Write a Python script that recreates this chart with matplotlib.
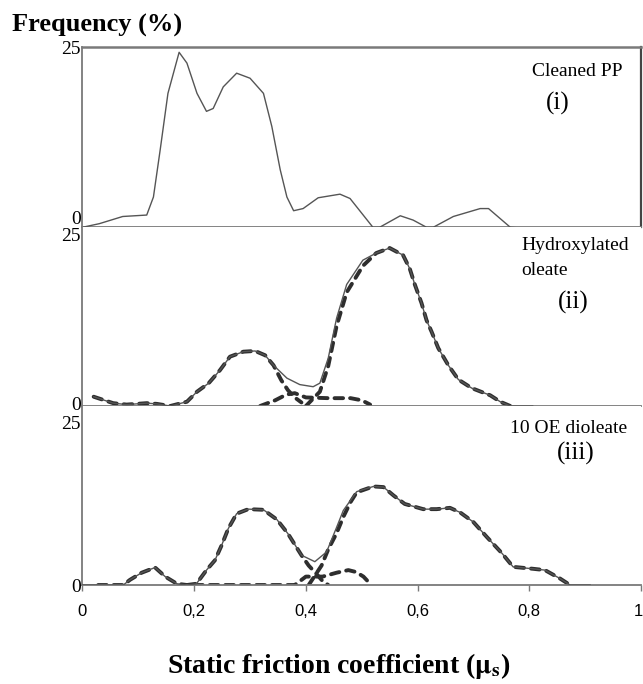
import matplotlib
matplotlib.use("Agg")
import matplotlib.pyplot as plt
from matplotlib.transforms import ScaledTranslation

plt.rcParams['mathtext.fontset'] = 'stix'

# Panel (i) - cleaned PP, total distribution
x_i = [0.00, 0.03, 0.072, 0.115, 0.127, 0.139, 0.153, 0.173, 0.187, 0.205, 0.222, 0.234,
       0.252, 0.276, 0.300, 0.324, 0.339, 0.354, 0.366, 0.378, 0.395, 0.422, 0.461, 0.479,
       0.520, 0.532, 0.569, 0.592, 0.616, 0.628, 0.664, 0.712, 0.727, 0.766, 0.785]
y_i = [0.0, 0.5, 1.5, 1.7, 4.2, 10.7, 18.6, 24.3, 22.8, 18.6, 16.1, 16.5,
       19.5, 21.4, 20.7, 18.6, 14.0, 8.0, 4.2, 2.3, 2.6, 4.1, 4.6, 4.0,
       0.0, 0.0, 1.6, 1.0, 0.0, 0.0, 1.5, 2.6, 2.6, 0.0, -0.1]

# Panel (ii) - hydroxylated oleate, total + fitted components
x_ii = [0.020, 0.055, 0.079, 0.115, 0.133, 0.157, 0.187, 0.205, 0.226, 0.246, 0.264, 0.288,
        0.309, 0.327, 0.342, 0.366, 0.389, 0.413, 0.425, 0.440, 0.455, 0.473, 0.502, 0.526,
        0.550, 0.574, 0.586, 0.595, 0.607, 0.616, 0.625, 0.637, 0.655, 0.673, 0.697, 0.730,
        0.748, 0.766, 0.806]
y_ii = [1.3, 0.4, 0.2, 0.4, 0.3, 0.0, 0.6, 2.0, 3.2, 5.0, 6.9, 7.6,
        7.7, 7.1, 5.7, 3.9, 3.0, 2.7, 3.2, 6.7, 12.3, 17.0, 20.4, 21.4,
        22.1, 21.1, 19.2, 17.0, 14.4, 12.0, 10.4, 8.1, 5.7, 3.7, 2.5, 1.5,
        0.6, 0.0, 0.0]
xa_ii = [0.020, 0.055, 0.079, 0.115, 0.133, 0.157, 0.187, 0.205, 0.226, 0.246, 0.264, 0.288,
         0.309, 0.327, 0.342, 0.356, 0.368, 0.380, 0.392]
ya_ii = [1.3, 0.4, 0.2, 0.4, 0.3, 0.0, 0.6, 2.0, 3.2, 5.0, 6.9, 7.6,
         7.7, 7.1, 5.7, 3.6, 2.2, 1.2, 0.5]
xb_ii = [0.318, 0.345, 0.365, 0.380, 0.400, 0.440, 0.480, 0.500, 0.515]
yb_ii = [0.0, 0.8, 1.6, 1.8, 1.2, 1.1, 1.1, 0.8, 0.2]
xc_ii = [0.400, 0.425, 0.440, 0.455, 0.473, 0.502, 0.526, 0.550, 0.574, 0.586, 0.595, 0.607,
         0.616, 0.625, 0.637, 0.655, 0.673, 0.697, 0.730, 0.748, 0.766]
yc_ii = [0.0, 2.0, 5.6, 11.2, 15.9, 19.6, 21.4, 22.1, 21.1, 19.2, 17.0, 14.4,
         12.0, 10.4, 8.1, 5.7, 3.7, 2.5, 1.5, 0.6, 0.0]

# Panel (iii) - 10 OE dioleate, total + fitted components
x_iii = [0.00, 0.073, 0.085, 0.106, 0.130, 0.148, 0.169, 0.187, 0.204, 0.222, 0.237, 0.249,
         0.261, 0.276, 0.297, 0.324, 0.348, 0.368, 0.392, 0.416, 0.437, 0.455, 0.467, 0.491,
         0.521, 0.539, 0.557, 0.577, 0.610, 0.634, 0.658, 0.676, 0.700, 0.724, 0.751, 0.771,
         0.807, 0.828, 0.855, 0.873, 0.909]
y_iii = [0.0, 0.0, 0.8, 1.9, 2.7, 1.3, 0.2, 0.0, 0.2, 2.3, 3.8, 6.1,
         8.7, 11.0, 11.7, 11.6, 10.1, 7.9, 4.6, 3.6, 5.1, 8.9, 11.5, 14.4,
         15.2, 15.1, 13.8, 12.5, 11.7, 11.7, 11.9, 11.2, 9.7, 7.4, 4.9, 2.8,
         2.5, 2.3, 1.0, 0.0, 0.0]
xa_iii = [0.028, 0.073, 0.085, 0.106, 0.130, 0.148, 0.169, 0.187]
ya_iii = [0.0, 0.0, 0.8, 1.9, 2.7, 1.3, 0.2, 0.0]
xb_iii = [0.187, 0.204, 0.222, 0.237, 0.249, 0.261, 0.276, 0.297, 0.324, 0.348, 0.368, 0.392,
          0.405, 0.418, 0.430, 0.440]
yb_iii = [0.0, 0.2, 2.3, 3.8, 6.1, 8.7, 11.0, 11.7, 11.6, 10.1, 7.9, 4.6,
          3.0, 1.8, 0.6, 0.0]
xc_iii = [0.405, 0.428, 0.440, 0.455, 0.467, 0.480, 0.491, 0.521, 0.539, 0.557, 0.577, 0.610,
          0.634, 0.658, 0.676, 0.700, 0.724, 0.751, 0.771, 0.807, 0.828, 0.855, 0.873]
yc_iii = [0.0, 3.0, 5.5, 8.0, 10.5, 12.8, 14.3, 15.2, 15.1, 13.8, 12.5, 11.7,
          11.7, 11.9, 11.2, 9.7, 7.4, 4.9, 2.8, 2.5, 2.3, 1.0, 0.0]
xd_iii = [0.20, 0.38, 0.400, 0.430, 0.455, 0.476, 0.490, 0.503, 0.515]
yd_iii = [0.0, 0.0, 1.3, 1.3, 1.9, 2.3, 2.0, 1.3, 0.2]

xticks = [0, 0.2, 0.4, 0.6, 0.8, 1]
xticklabels = ['0', '0,2', '0,4', '0,6', '0,8', '1']

serif = 'Liberation Serif'
sans = 'Liberation Sans'
solid_c = '#555555'
dash_c = '#2e2e2e'
spine_c = '#7a7a7a'

fig = plt.figure(figsize=(6.43, 6.84), dpi=100)
left, width = 0.1283, 0.8686
ax1 = fig.add_axes([left, 0.6677, width, 0.2632])
ax2 = fig.add_axes([left, 0.4064, width, 0.2613])
ax3 = fig.add_axes([left, 0.1447, width, 0.2617])
axes = [ax1, ax2, ax3]

def dashed(ax, x, y):
    ax.plot(x, y, color=dash_c, lw=2.8, linestyle=(0, (2.2, 1.8)),
            dash_capstyle='round', solid_joinstyle='round', zorder=2)

ax1.plot(x_i, y_i, color=solid_c, lw=1.0, zorder=3)

dashed(ax2, xa_ii, ya_ii)
dashed(ax2, xb_ii, yb_ii)
dashed(ax2, xc_ii, yc_ii)
ax2.plot(x_ii, y_ii, color=solid_c, lw=1.0, zorder=3)

dashed(ax3, xa_iii, ya_iii)
dashed(ax3, xb_iii, yb_iii)
dashed(ax3, xc_iii, yc_iii)
dashed(ax3, xd_iii, yd_iii)
ax3.plot(x_iii, y_iii, color=solid_c, lw=1.0, zorder=3)

ylims = [(0, 25), (0, 25), (0, 27.6)]
for ax, yl in zip(axes, ylims):
    ax.set_xlim(0, 1)
    ax.set_ylim(*yl)
    ax.set_yticks([0, 25])
    ax.set_yticklabels(['0', '25'], fontfamily=serif, fontsize=14)
    ax.tick_params(axis='y', length=0, pad=1)
    for s in ax.spines.values():
        s.set_color(spine_c)
        s.set_linewidth(1.3)
    ax.spines['top'].set_visible(False)
    ax.spines['right'].set_visible(False)

ax1.spines['top'].set_visible(True)
ax1.spines['top'].set_linewidth(1.8)
ax1.spines['right'].set_visible(True)
ax1.spines['right'].set_color('#444444')
ax1.spines['right'].set_linewidth(1.6)

# nudge some labels to where they sit in the original
def nudge(label, dx_px, dy_px):
    label.set_transform(label.get_transform()
                        + ScaledTranslation(dx_px / 100, dy_px / 100, fig.dpi_scale_trans))

lab1 = ax1.get_yticklabels()
nudge(lab1[0], 0, 10)
lab2 = ax2.get_yticklabels()
nudge(lab2[0], 0, 3)
nudge(lab2[1], 0, -7)

for ax in [ax1, ax2]:
    ax.set_xticks([])
ax3.set_xticks(xticks)
ax3.set_xticklabels(xticklabels, fontfamily=sans, fontsize=12)
ax3.tick_params(axis='x', direction='out', length=4, width=1, color=spine_c, pad=10)
nudge(ax3.get_xticklabels()[-1], -3, 0)

# panel captions
ax1.text(0.885, 0.863, 'Cleaned PP', transform=ax1.transAxes, ha='center', va='center',
         fontfamily=serif, fontsize=14)
ax1.text(0.851, 0.69, '(i)', transform=ax1.transAxes, ha='center', va='center',
         fontfamily=serif, fontsize=18)
ax2.text(0.785, 0.90, 'Hydroxylated', transform=ax2.transAxes, ha='left', va='center',
         fontfamily=serif, fontsize=14)
ax2.text(0.785, 0.76, 'oleate', transform=ax2.transAxes, ha='left', va='center',
         fontfamily=serif, fontsize=14)
ax2.text(0.878, 0.58, '(ii)', transform=ax2.transAxes, ha='center', va='center',
         fontfamily=serif, fontsize=18)
ax3.text(0.975, 0.877, '10 OE dioleate', transform=ax3.transAxes, ha='right', va='center',
         fontfamily=serif, fontsize=14)
ax3.text(0.884, 0.737, '(iii)', transform=ax3.transAxes, ha='center', va='center',
         fontfamily=serif, fontsize=18)

fig.text(12 / 643, 1 - 32 / 684, 'Frequency (%)', ha='left', va='baseline',
         fontfamily=serif, fontweight='bold', fontsize=19)
fig.text(0.527, 1 - 673 / 684, r'Static friction coefficient ($\mathbf{\mu_s}$)',
         ha='center', va='baseline', fontfamily=serif, fontweight='bold', fontsize=20)

fig.savefig('out.png', dpi=100)
